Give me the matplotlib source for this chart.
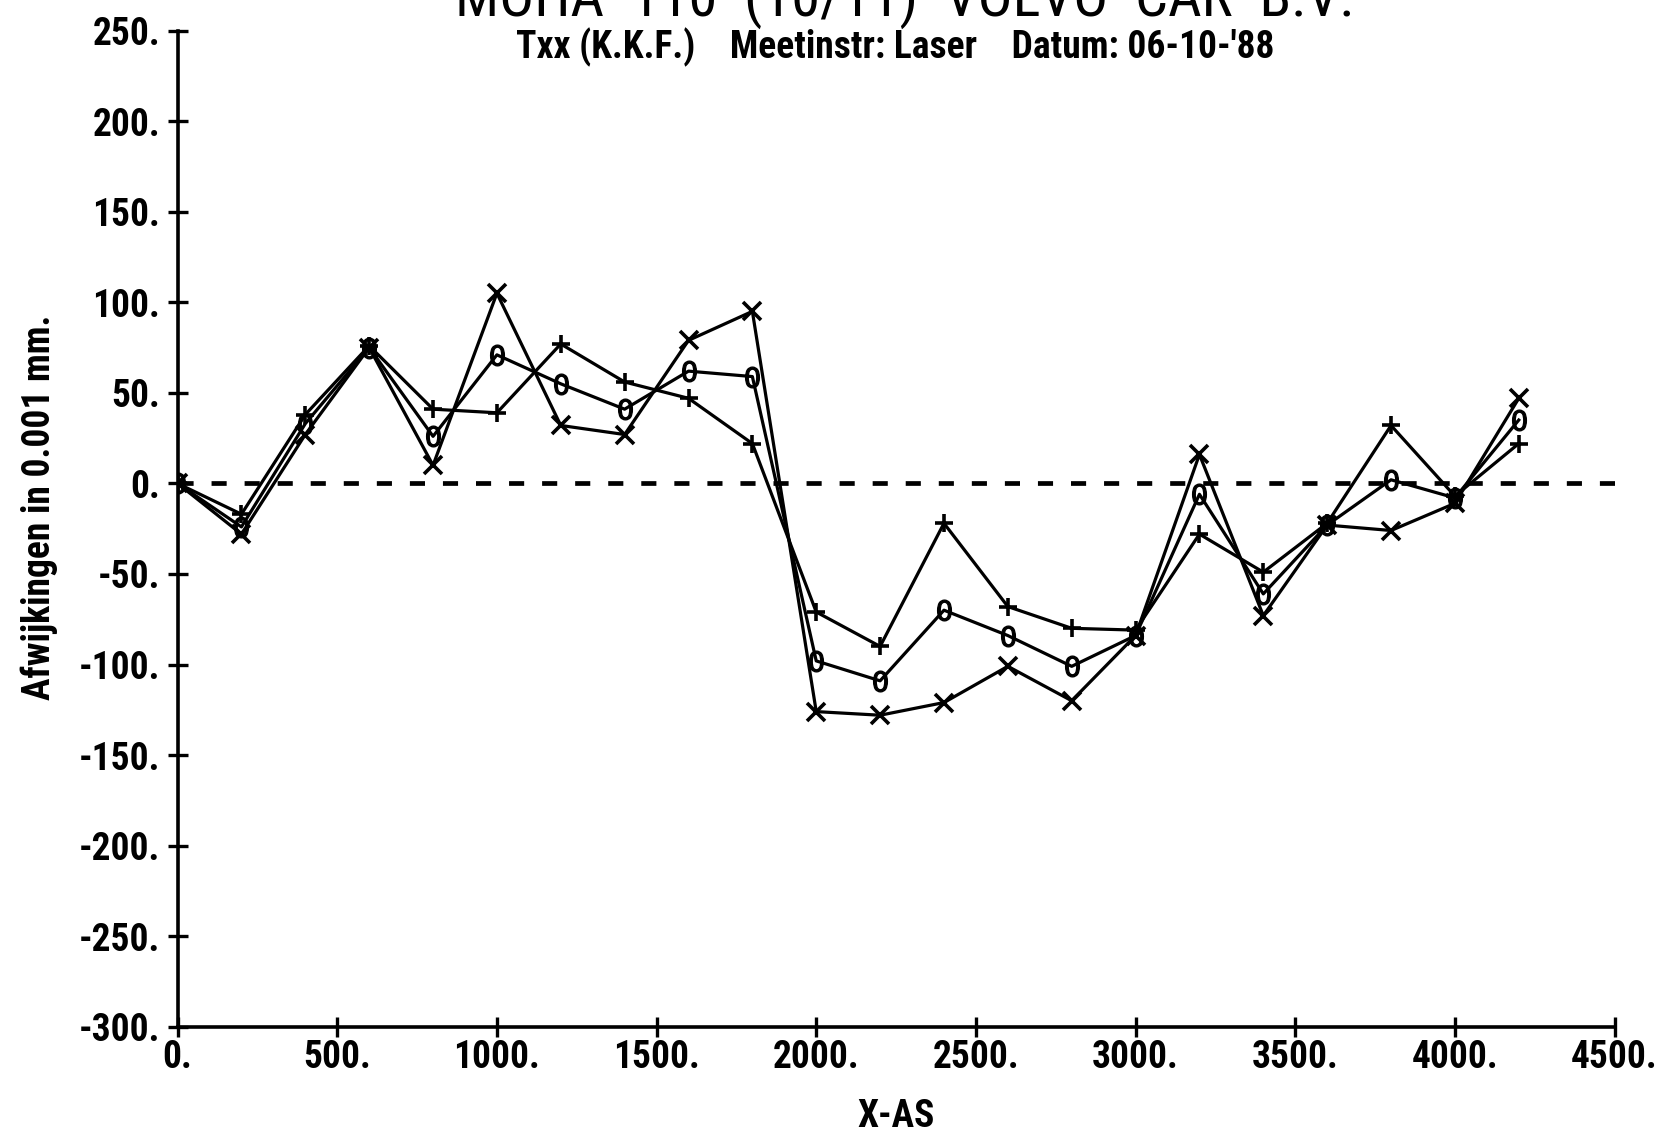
import matplotlib
matplotlib.use("Agg")
import matplotlib.pyplot as plt
from matplotlib import font_manager

# Pick a narrow sans family for the plotter-style lettering
installed = {f.name for f in font_manager.fontManager.ttflist}
narrow_choices = ['Roboto Condensed', 'Archivo Narrow', 'PT Sans Narrow',
                  'Liberation Sans Narrow', 'Sofia Sans Condensed', 'Open Sans Condensed']
narrow = next((n for n in narrow_choices if n in installed), 'DejaVu Sans')
plt.rcParams['font.family'] = [narrow, 'DejaVu Sans']

# Measurement positions along the X axis
positions = [0, 200, 400, 600, 800, 1000, 1200, 1400, 1600, 1800, 2000,
             2200, 2400, 2600, 2800, 3000, 3200, 3400, 3600, 3800, 4000, 4200]

# Deviations (0.001 mm) for the three measurement runs
run_cross = [0, -28, 27, 75, 10, 105, 32, 27, 79, 95, -126,
             -128, -121, -101, -120, -84, 16, -73, -23, -26, -11, 47]
run_circle = [0, -24, 33, 75, 26, 71, 55, 41, 62, 59, -98,
              -109, -70, -84, -101, -84, -6, -61, -23, 2, -8, 35]
run_plus = [0, -17, 38, 76, 41, 39, 77, 56, 47, 22, -71,
            -90, -22, -68, -80, -81, -28, -49, -22, 32, -7, 22]

x_ticks = [0, 500, 1000, 1500, 2000, 2500, 3000, 3500, 4000, 4500]
y_ticks = [250, 200, 150, 100, 50, 0, -50, -100, -150, -200, -250, -300]

fig = plt.figure(figsize=(16.58, 11.36), dpi=100)
ax = fig.add_axes([0.1071, 0.0962, 0.8667, 0.8768])

# Zero reference line
ax.plot([x_ticks[0], x_ticks[-1]], [0, 0], color='black', lw=3.4,
        linestyle=(0, (3.2, 3.8)), zorder=1)

line_kw = dict(color='black', lw=2.3, zorder=3)
ax.plot(positions, run_cross, marker='x', markersize=13, mew=2.6, **line_kw)
ax.plot(positions, run_circle, marker='$0$', markersize=15, mew=0.9, **line_kw)
ax.plot(positions, run_plus, marker='+', markersize=13, mew=2.6, **line_kw)

ax.set_xlim(0, 4500)
ax.set_ylim(-300, 250)
ax.set_xticks(x_ticks)
ax.set_yticks(y_ticks)
ax.set_xticklabels([f"{v}." for v in x_ticks])
ax.set_yticklabels([f"{v}." for v in y_ticks])

for side in ('top', 'right'):
    ax.spines[side].set_visible(False)
for side in ('left', 'bottom'):
    ax.spines[side].set_linewidth(2.6)

ax.tick_params(axis='both', direction='inout', length=15, width=2.4,
               labelsize=27)
ax.tick_params(axis='y', pad=5)
ax.tick_params(axis='x', pad=1)
for lab in ax.get_xticklabels() + ax.get_yticklabels():
    lab.set_fontweight('bold')

ax.set_xlabel('X-AS', fontsize=27, fontweight='bold', labelpad=16)
ax.set_ylabel('Afwijkingen in 0.001 mm.', fontsize=27, fontweight='bold')
ax.yaxis.set_label_coords(-0.083, 0.521)

fig.text(0.540, 0.949, "Txx (K.K.F.)    Meetinstr: Laser    Datum: 06-10-'88",
         ha='center', va='baseline', fontsize=27, fontweight='bold')
fig.text(0.546, 0.986, "MOHA  110  (10/11)  VOLVO  CAR  B.V.",
         ha='center', va='baseline', fontsize=42)

fig.savefig('out.png', dpi=100, facecolor='white')
